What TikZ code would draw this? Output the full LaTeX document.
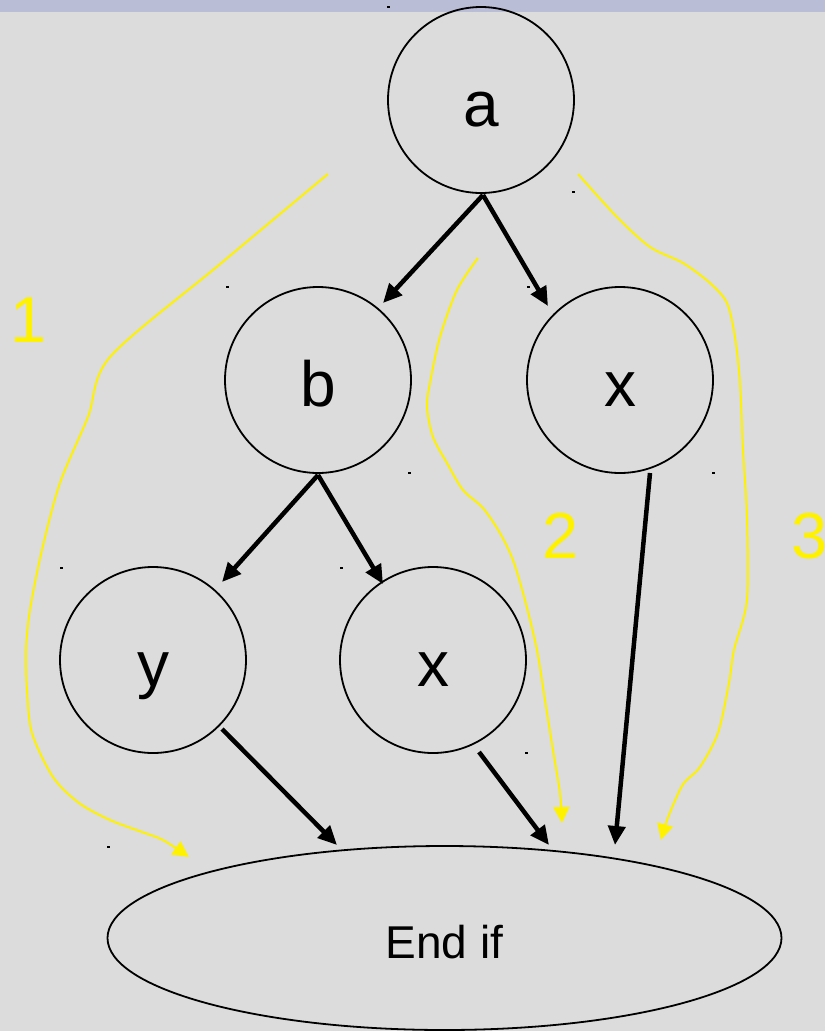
\documentclass[tikz,border=0pt]{standalone}
\usepackage{fontspec}
\setmainfont{Liberation Sans}
\usetikzlibrary{arrows.meta,shapes.geometric,calc}
\definecolor{bgc}{RGB}{220,220,220}
\definecolor{stripc}{RGB}{186,189,214}
\begin{document}
\begin{tikzpicture}[x=1pt,y=-1pt,
  circ/.style={circle,draw,line width=1.8pt,minimum size=186pt,inner sep=0pt,
    font=\fontsize{64}{70}\selectfont,text height=52pt,text depth=0pt},
  endbox/.style={ellipse,draw,line width=1.8pt,minimum width=674pt,minimum height=184pt,inner sep=0pt,
    font=\fontsize{46}{50}\selectfont,text height=40pt,text depth=0pt},
  num/.style={text=yellow,font=\fontsize{65}{70}\selectfont,inner sep=0pt,anchor=base},
  blk/.style={line width=4.5pt,-{Triangle[length=19pt,width=17pt]}},
  ylw/.style={draw=yellow,line width=2pt,-{Triangle[length=16pt,width=16pt]}},
  mydot/.style={fill=black}]
\fill[bgc] (0,0) rectangle (825,1031);
\fill[stripc] (0,0) rectangle (825,12);
\useasboundingbox (0,0) rectangle (825,1031);

% nodes
\node[circ] (a) at (481,100) {a};
\node[circ] (b) at (318,380) {b};
\node[circ] (x1) at (620,380) {x};
\node[circ] (y) at (153,660) {y};
\node[circ] (x2) at (433,660) {x};
\node[endbox] (endif) at (444.5,938) {End if};

% numbers
\node[num] (n1) at (29,342) {1};
\node[num] (n2) at (561,558) {2};
\node[num] (n3) at (810,558) {3};

% black connectors
\draw[blk] ($(a)+(2,95)$) -- ($(b)+(65,-77)$);
\draw[blk] ($(a)+(2,95)$) -- ($(x1)+(-72,-74)$);
\draw[blk] ($(b)+(0,95)$) -- ($(y)+(69,-78)$);
\draw[blk] ($(b)+(0,95)$) -- ($(x2)+(-50,-76)$);
\draw[blk] ($(x1)+(30,93)$) -- ($(endif)+(170.5,-93)$);
\draw[blk] ($(y)+(69,69)$) -- ($(endif)+(-107.5,-93)$);
\draw[blk] ($(x2)+(46,92)$) -- ($(endif)+(104.5,-93)$);

% yellow paths
\draw[ylw] plot[smooth,tension=0.5] coordinates {(328,174) (219,265) (110,357) (88,417) (60,483) (42,550) (30,610) (26,650) (27,690) (32,733) (53,777) (79,803) (110,820) (142,832) (163,840) (189,857)};
\draw[ylw] plot[smooth,tension=0.5] coordinates {(478,258) (457,290) (440,337) (430,383) (427,407) (433,437) (447,463) (463,490) (483,508) (500,533) (513,560) (525,600) (537,650) (545,700) (553,750) (560,793) (562,823)};
\draw[ylw] plot[smooth,tension=0.5] coordinates {(578,174) (617,217) (650,247) (683,263) (710,283) (727,303) (735,337) (740,383) (743,450) (747,517) (747,600) (734,650) (729,683) (718,733) (700,767) (684,783) (674,803) (666,823) (661,840)};

% small marks
\foreach \p in {(388,7),(573,192),(227,287),(528,287),(409,473),(713,473),(61,568),(341,568),(526,753),(108,847)}
  \fill[mydot] \p ++(-1.5,-1.2) rectangle ++(3,2.5);
\end{tikzpicture}
\end{document}
